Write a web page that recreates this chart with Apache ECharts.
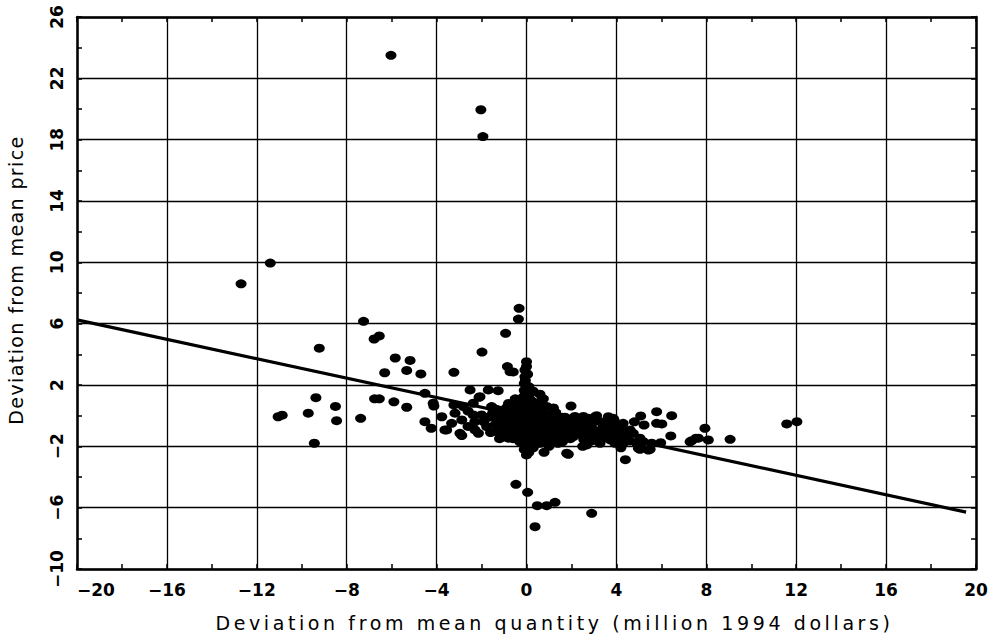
<!DOCTYPE html>
<html><head><meta charset="utf-8">
<script src="https://cdn.jsdelivr.net/npm/echarts@6/dist/echarts.min.js"></script>
<style>html,body{margin:0;padding:0;background:#fff}#c{width:1000px;height:638px}</style>
</head><body><div id="c"></div>
<script>
const xName = 'Deviation from mean quantity (million 1994 dollars)';
const yName = 'Deviation from mean price';
const xMin = -20, xMax = 20, xStep = 4;
const yMin = -10, yMax = 26, yStep = 4;

// outliers and sparse points [quantity deviation, price deviation]
const sparsePoints = [
  [-6.03,23.5],[-2.03,19.95],[-1.94,18.2],[-11.4,9.95],[-12.7,8.6],
  [-7.25,6.15],[-6.78,5.0],[-6.55,5.2],[-9.22,4.4],[-5.84,3.76],[-6.31,2.8],[-5.18,3.6],[-5.33,2.95],[-4.7,2.72],[-3.23,2.83],
  [-0.33,7.0],[-0.36,6.3],[-0.93,5.37],[-1.98,4.15],[-0.85,3.2],[-0.73,2.87],[-0.59,2.85],
  [-9.37,1.17],[-6.76,1.1],[-6.55,1.1],[-5.9,0.9],[-8.5,0.6],[-9.71,0.16],[-11.05,-0.07],[-10.87,0.03],[-8.45,-0.33],[-7.38,-0.17],[-9.44,-1.8],[-5.33,0.55],
  [0.0,-2.56],[0.78,-2.39],[1.86,-2.52],[-0.47,-4.48],[0.05,-5.0],[0.48,-5.87],[0.9,-5.87],[1.27,-5.65],[2.9,-6.37],[0.38,-7.24],
  [12.03,-0.39],[11.58,-0.54],[9.06,-1.54],[7.94,-0.82],[8.09,-1.58],[7.65,-1.47],[7.28,-1.7],[7.35,-1.63],[7.54,-1.47]
];
// left-of-centre band
const leftPoints = [
  [-4.52,1.46],[-4.15,0.81],[-4.12,0.63],[-2.51,1.68],[-1.7,1.68],[-1.26,1.63],[-2.11,1.2],[-3.23,0.7],[-2.81,0.59],[-2.37,0.81],
  [-2.07,1.24],[-3.77,-0.07],[-3.18,0.16],[-2.37,0.05],[-2.0,0.05],[-3.33,-0.5],[-2.88,-0.28],[-4.52,-0.39],[-4.24,-0.82],[-3.63,-0.93],
  [-3.55,-0.93],[-2.96,-1.15],[-2.88,-1.3],[-2.29,-0.93],[-2.14,-1.15],[-1.55,0.59],[-1.62,-0.07],[-1.33,-0.28],[-1.77,-0.72],[-1.33,-1.04],
  [-1.03,-1.37],[-0.81,-1.47],[-2.3,-0.4],[-2.6,0.3],[-2.6,-0.7]
];
// right tail
const rightPoints = [
  [6.42,-1.32],[5.08,-0.02],[5.79,0.26],[6.46,0.0],[5.23,-0.61],[5.79,-0.5],[6.02,-0.54],[5.97,-1.76],[5.5,-2.19],[5.05,-2.19],
  [4.4,-2.87],[3.64,-0.07],[3.05,-0.07],[2.68,-0.39],[3.86,-0.17],[4.16,-0.93],[4.61,-0.93],[4.75,-1.15],[5.05,-1.47],[5.2,-1.7],
  [5.57,-1.8],[4.98,-2.13],[5.42,-2.24],[3.94,-1.8],[3.79,-1.15],[4.3,-1.8],[4.47,-1.36],
  [1.98,0.63],[1.71,-0.1],[2.08,-0.15],[2.53,-0.05],[2.75,-0.17],[3.12,0.0],[1.19,-0.17],[0.97,-0.93],[1.34,-1.15],
  [2.08,-1.37],[2.53,-1.15],[2.97,-0.93],[3.42,-1.15],[3.72,-0.82],[0.82,-1.58],[1.19,-1.7],[1.79,-2.45],[2.68,-1.91],[3.27,-1.8],
  [1.55,-0.95],[1.75,-0.3],[1.95,-1.5],[2.15,-0.05],[2.35,-0.85],[2.55,-1.55],[2.7,-1.0],[3.0,-0.3],[3.2,-1.35],[3.4,-0.75],
  [3.75,-1.6],[4.0,-0.7],[4.2,-2.1],[4.5,-1.0],[4.9,-1.8],[1.15,-1.45],[1.6,-1.7],[2.5,-2.0],[2.9,-1.65]
];
// vertical stack near zero quantity
const stackPoints = [
  [0.0,3.52],[-0.07,2.98],[-0.07,2.54],[-0.1,2.1],[0.0,1.8],[-0.05,1.5],[0.1,1.25],[-0.1,1.0],[0.05,0.8],[0.15,0.6],
  [-0.15,0.5],[0.2,0.3],[0.35,0.2],[0.6,1.4],[0.3,1.6],[0.75,1.1],
  [-0.05,2.3],[0.05,2.7],[0.0,3.2],[-0.1,1.65],[0.1,1.9],[0.15,1.45],[-0.15,1.2],[0.05,1.1],[0.25,0.8],[-0.3,0.75],[0.4,0.45],[-0.05,0.65]
];
// dense central cluster
const corePoints = [
  [-1.9,-0.4],[-1.7,-0.1],[-1.5,0.2],[-1.4,-0.6],[-1.3,0.4],[-1.2,-0.2],[-1.1,-0.8],[-1.0,0.1],[-0.95,-0.45],[-0.9,0.5],
  [-0.85,-1.0],[-0.8,-0.1],[-0.75,0.3],[-0.7,-0.6],[-0.65,-1.2],[-0.6,0.0],[-0.55,0.7],[-0.5,-0.3],[-0.45,-0.9],[-0.4,0.25],
  [-0.35,-0.55],[-0.3,0.6],[-0.25,-0.15],[-0.2,-1.3],[-0.2,0.1],[-0.15,-0.7],[-0.1,0.4],[-0.1,-0.35],[-0.05,-1.0],[0.0,0.0],
  [0.0,-0.5],[0.05,-1.6],[0.1,-0.2],[0.1,0.55],[0.15,-0.85],[0.2,-0.1],[0.25,-1.25],[0.3,0.2],[0.3,-0.45],[0.35,-1.9],
  [0.4,-0.7],[0.45,0.1],[0.5,-0.3],[0.55,-1.05],[0.6,0.35],[0.65,-0.55],[0.7,-1.4],[0.75,-0.2],[0.8,0.15],[0.85,-0.75],
  [0.9,-0.4],[1.0,0.05],[1.05,-1.25],[1.1,-0.6],[1.2,-0.3],[1.3,0.2],[1.35,-0.8],[1.45,-0.45],[1.5,-1.4],[1.6,-0.1],
  [1.7,-0.7],[1.8,-1.1],[1.9,-0.35],[2.0,-0.9],[2.2,-0.5],[2.3,-1.2],[2.4,-0.25],[2.6,-0.75],[2.8,-1.3],[2.9,-0.55],
  [3.1,-1.0],[3.3,-0.4],[3.5,-1.45],[3.6,-0.6],[3.9,-0.3],[4.1,-1.3],[4.3,-0.5],[4.6,-1.65],[4.8,-0.4],[-0.3,-1.7],
  [-0.6,-1.5],[-1.2,-1.5],[-1.6,-1.1],[0.2,1.0],[0.4,0.8],[0.6,0.9],[0.9,0.6],[1.2,0.5],[-0.5,1.1],[-0.3,0.9],
  [0.3,-2.1],[0.6,-1.8],[1.0,-2.0],[1.4,-1.8],[-0.1,-2.2],[0.1,-2.4],
  [-0.8,0.8],[-0.6,0.45],[-0.45,-0.15],[-0.35,0.35],[-0.25,-0.9],[-0.15,0.2],[-0.05,-0.25],[0.05,0.3],[0.15,-0.45],[0.25,0.5],
  [0.35,-0.15],[0.45,-1.0],[0.55,-0.5],[0.65,0.1],[0.75,-0.8],[0.85,-0.05],[0.95,-1.1],[-0.55,-0.65],[-0.7,0.15],[-0.9,-0.25],
  [-1.05,-0.55],[-1.15,0.3],[-1.25,-0.95],[-0.4,-1.25],[-0.2,-1.6],[0.0,-1.9],[0.2,-1.5],[0.4,-1.6]
];
// fitted regression line end points
const fitX = [-20, 19.56];
const fitY = [6.25, -6.29];

const yShift = -yMin; // axis drawn from 0 so ticks fall on -10, -6, ...
const allPoints = [].concat(sparsePoints, leftPoints, rightPoints, stackPoints, corePoints)
  .map(p => [p[0], p[1] + yShift]);
const fitData = fitX.map((x, i) => [x, fitY[i] + yShift]);

const minus = s => String(s).replace('-', '\u2212');
const FONT = 'DejaVu Sans';
const tickFont = {color:'#000', fontFamily:FONT, fontSize:17, fontWeight:'bold'};

const chart = echarts.init(document.getElementById('c'), null, {renderer:'svg'});
const baseX = {
  type:'value', min:xMin, max:xMax, interval:xStep,
  axisLine:{show:true, onZero:false, lineStyle:{color:'#000', width:2.5}},
  axisTick:{show:true, inside:true, length:5, lineStyle:{color:'#000', width:1.5}},
  minorTick:{show:true, splitNumber:2, length:5, lineStyle:{color:'#000', width:1.5}},
  minorSplitLine:{show:false}
};
const baseY = {
  type:'value', min:0, max:yMax - yMin, interval:yStep,
  axisLine:{show:true, onZero:false, lineStyle:{color:'#000', width:2.5}},
  axisTick:{show:true, inside:true, length:5, lineStyle:{color:'#000', width:1.5}},
  minorTick:{show:true, splitNumber:2, length:5, lineStyle:{color:'#000', width:1.5}},
  minorSplitLine:{show:false}
};
chart.setOption({
  animation:false,
  backgroundColor:'#fff',
  grid:{left:77, right:24, top:17, bottom:69, show:false, containLabel:false, outerBoundsMode:'none'},
  xAxis:[
    Object.assign({}, baseX, {
      position:'bottom',
      name:xName, nameLocation:'middle', nameGap:44,
      nameTextStyle:{color:'#000', fontFamily:FONT, fontSize:19, padding:[0,0,0,56]},
      splitLine:{show:true, lineStyle:{color:'#000', width:1.3}},
      axisLabel:Object.assign({show:true, margin:12, alignMinLabel:'left', formatter:v => minus(v)}, tickFont)
    }),
    Object.assign({}, baseX, {position:'top', axisLabel:{show:false}, splitLine:{show:false}})
  ],
  yAxis:[
    Object.assign({}, baseY, {
      position:'left',
      name:yName, nameLocation:'middle', nameGap:52,
      nameTextStyle:{color:'#000', fontFamily:FONT, fontSize:19, padding:[0,0,0,26]},
      splitLine:{show:true, lineStyle:{color:'#000', width:1.3}},
      axisLabel:Object.assign({show:true, rotate:90, margin:12, formatter:v => minus(v - yShift)}, tickFont)
    }),
    Object.assign({}, baseY, {position:'right', axisLabel:{show:false}, splitLine:{show:false}})
  ],
  series:[
    {
      type:'scatter', xAxisIndex:0, yAxisIndex:0, data:allPoints,
      symbol:'circle', symbolSize:[11,9],
      itemStyle:{color:'#000', opacity:1}, silent:true
    },
    {
      type:'line', xAxisIndex:0, yAxisIndex:0, data:fitData,
      symbol:'none', lineStyle:{color:'#000', width:3.2}, silent:true
    }
  ]
});

// widen the axis titles' tracking to match the reference lettering
function spaceTitles() {
  document.querySelectorAll('#c svg text').forEach(t => {
    const s = t.textContent;
    if (s === xName) t.style.letterSpacing = '3.6px';
    else if (s === yName) t.style.letterSpacing = '1.4px';
  });
}
chart.on('finished', spaceTitles);
spaceTitles();
setTimeout(spaceTitles, 0);
setTimeout(spaceTitles, 100);
</script></body></html>
